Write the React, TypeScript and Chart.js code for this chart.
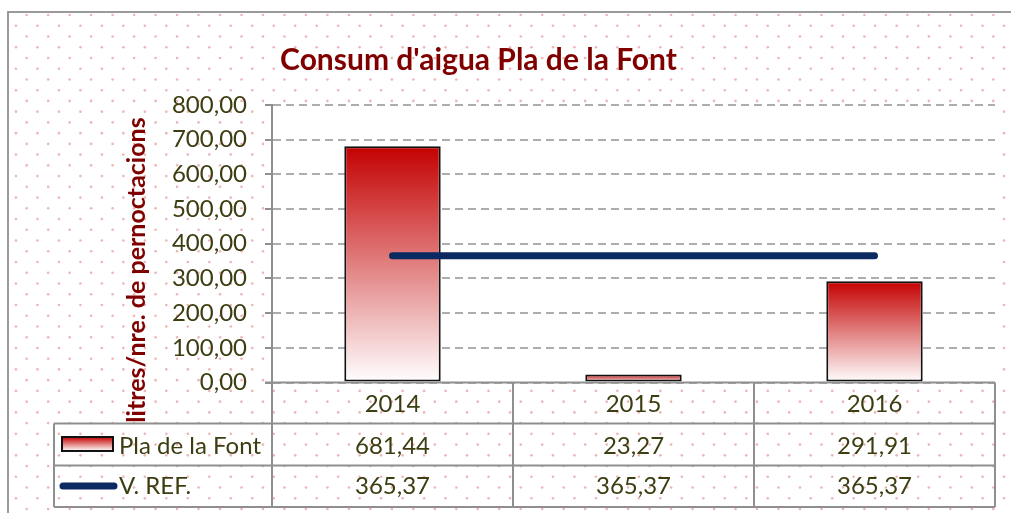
import React, { useEffect, useRef } from 'react';
import { Chart, registerables } from 'chart.js';

Chart.register(...registerables);

const categories = ['2014', '2015', '2016'];
const plaDeLaFont = [681.44, 23.27, 291.91];
const vRef = [365.37, 365.37, 365.37];
const seriesNames = ['Pla de la Font', 'V. REF.'];
const chartTitle = "Consum d'aigua Pla de la Font";
const yAxisTitle = 'litres/nre. de pernoctacions';
const yMin = 0;
const yMax = 800;
const yStep = 100;

const FONT = 'Lato, "Open Sans", sans-serif';
const TEXT_COLOR = '#3d3d12';
const TITLE_COLOR = '#800000';
const GRID_GRAY = '#8f8f8f';
const NAVY = '#0c2a62';
const RED = '#c40000';

const fmt = (v: number) => v.toFixed(2).replace('.', ',');

const W = 1011;
const H = 513;

const decorPlugin = {
  id: 'decor',
  beforeDraw(chart: any) {
    const ctx: CanvasRenderingContext2D = chart.ctx;
    const ca = chart.chartArea;
    ctx.save();
    ctx.fillStyle = '#ffffff';
    ctx.fillRect(0, 0, W, H);
    // dotted pattern
    ctx.fillStyle = 'rgba(226,120,120,0.55)';
    const sp = 21.48;
    for (let j = 0; ; j++) {
      const y = 15 + j * (sp / 2);
      if (y > H) break;
      const x0 = j % 2 === 0 ? 26.7 : 26.7 - sp / 2;
      for (let x = x0; x < W; x += sp) {
        if (x < 10) continue;
        ctx.beginPath();
        ctx.arc(x, y, 1.3, 0, Math.PI * 2);
        ctx.fill();
      }
    }
    // white plot area
    ctx.fillStyle = '#ffffff';
    ctx.fillRect(ca.left, ca.top - 2, ca.right - ca.left, ca.bottom - ca.top + 2);
    // outer border
    ctx.strokeStyle = '#9a9a9a';
    ctx.lineWidth = 2;
    ctx.beginPath();
    ctx.moveTo(8, H + 5);
    ctx.lineTo(8, 12);
    ctx.lineTo(W + 5, 12);
    ctx.stroke();
    ctx.restore();
  },
  afterDraw(chart: any) {
    const ctx: CanvasRenderingContext2D = chart.ctx;
    const ca = chart.chartArea;
    const xs = chart.scales.x;
    const n = categories.length;
    const cw = (ca.right - ca.left) / n;
    const rowTop = ca.bottom;
    const r1 = 423.5;
    const r2 = 465.5;
    const r3 = 507;
    const tableLeft = 54;
    ctx.save();
    // table lines
    ctx.strokeStyle = GRID_GRAY;
    ctx.lineWidth = 2;
    ctx.beginPath();
    ctx.moveTo(ca.left - 7, rowTop);
    ctx.lineTo(ca.right, rowTop);
    for (const y of [r1, r2, r3]) {
      ctx.moveTo(tableLeft, y);
      ctx.lineTo(ca.right, y);
    }
    for (let i = 0; i <= n; i++) {
      const x = ca.left + i * cw;
      ctx.moveTo(x, rowTop);
      ctx.lineTo(x, r3);
    }
    ctx.moveTo(tableLeft, r1);
    ctx.lineTo(tableLeft, r3);
    ctx.stroke();

    // table text
    ctx.fillStyle = TEXT_COLOR;
    ctx.font = `24px ${FONT}`;
    ctx.textAlign = 'center';
    ctx.textBaseline = 'alphabetic';
    const b0 = 412;
    const b1 = 453.5;
    const b2 = 494;
    categories.forEach((c, i) => {
      const x = xs.getPixelForValue(i);
      ctx.fillText(c, x, b0);
      ctx.fillText(fmt(plaDeLaFont[i]), x, b1);
      ctx.fillText(fmt(vRef[i]), x, b2);
    });
    ctx.textAlign = 'left';
    ctx.fillText(seriesNames[0], 119, b1);
    ctx.fillText(seriesNames[1], 119, b2);

    // legend swatches
    const g = ctx.createLinearGradient(0, 437, 0, 451);
    g.addColorStop(0, RED);
    g.addColorStop(1, '#ffffff');
    ctx.fillStyle = g;
    ctx.fillRect(62, 437, 51, 14);
    ctx.strokeStyle = '#111111';
    ctx.lineWidth = 2;
    ctx.strokeRect(62, 437, 51, 14);
    ctx.strokeStyle = NAVY;
    ctx.lineWidth = 7;
    ctx.lineCap = 'round';
    ctx.beginPath();
    ctx.moveTo(63, 486);
    ctx.lineTo(114, 486);
    ctx.stroke();

    // title
    ctx.fillStyle = TITLE_COLOR;
    ctx.font = `bold 30px ${FONT}`;
    ctx.textAlign = 'center';
    ctx.textBaseline = 'alphabetic';
    ctx.fillText(chartTitle, 478.5, 70);

    // y axis title
    ctx.translate(145, 270);
    ctx.rotate(-Math.PI / 2);
    ctx.font = `bold 25px ${FONT}`;
    ctx.fillText(yAxisTitle, 0, 0);
    ctx.restore();
  },
};

export default function App() {
  const ref = useRef<HTMLCanvasElement | null>(null);
  useEffect(() => {
    if (!ref.current) return;
    const chart = new Chart(ref.current, {
      type: 'bar',
      data: {
        labels: categories,
        datasets: [
          {
            type: 'line',
            label: seriesNames[1],
            data: vRef,
            borderColor: NAVY,
            borderWidth: 7,
            borderCapStyle: 'round',
            pointRadius: 0,
            fill: false,
            order: 0,
          } as any,
          {
            type: 'bar',
            label: seriesNames[0],
            data: plaDeLaFont,
            order: 1,
            borderColor: '#111111',
            borderWidth: 2,
            borderSkipped: false,
            barPercentage: 0.4,
            categoryPercentage: 1,
            backgroundColor: (c: any) => {
              const ch = c.chart;
              if (!ch.chartArea || c.type !== 'data' || !ch.scales.y) return RED;
              const y = ch.scales.y;
              const top = y.getPixelForValue(c.raw);
              const bot = y.getPixelForValue(0);
              const gr = ch.ctx.createLinearGradient(0, top, 0, bot);
              gr.addColorStop(0, RED);
              gr.addColorStop(1, '#ffffff');
              return gr;
            },
          } as any,
        ],
      },
      options: {
        responsive: false,
        animation: false,
        layout: { padding: { left: 0, top: 105, right: 16, bottom: 130.5 } },
        plugins: {
          legend: { display: false },
          title: { display: false },
          tooltip: { enabled: false },
        },
        scales: {
          x: { display: false, offset: true },
          y: {
            min: yMin,
            max: yMax,
            afterFit: (s: any) => {
              s.width = 272;
            },
            ticks: {
              stepSize: yStep,
              padding: 18,
              color: TEXT_COLOR,
              font: { family: FONT, size: 24 },
              callback: (v: any) => fmt(Number(v)),
            },
            grid: {
              color: '#adadad',
              lineWidth: 2,
              tickLength: 7,
              tickColor: GRID_GRAY,
              tickWidth: 2,
            },
            border: { color: GRID_GRAY, width: 2, dash: [8, 5] },
          },
        },
      },
      plugins: [decorPlugin],
    });
    return () => chart.destroy();
  }, []);
  return (
    <div style={{ position: 'fixed', left: 0, top: 0, width: W, height: H }}>
      <canvas ref={ref} width={W} height={H} style={{ width: W, height: H, display: 'block' }} />
    </div>
  );
}
